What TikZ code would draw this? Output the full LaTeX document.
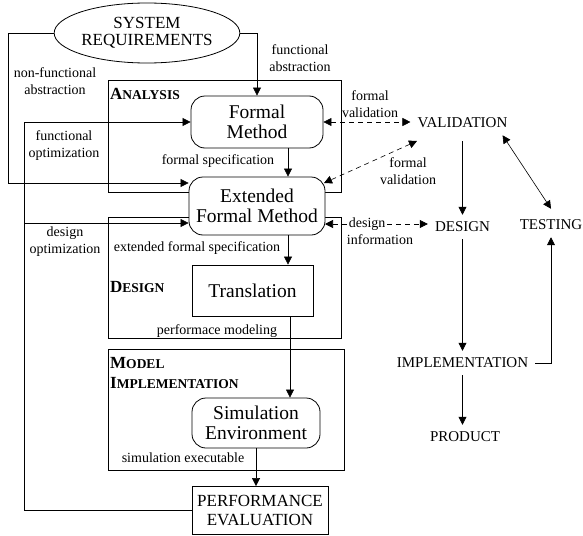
\documentclass[tikz,border=0pt]{standalone}
\usepackage{fontspec}
\setmainfont{Liberation Serif}
\usetikzlibrary{shapes.geometric,arrows.meta,calc}
\newcommand\mysmcap[1]{{\fontsize{13.5}{16}\selectfont #1}}
\begin{document}
\begin{tikzpicture}[x=1pt,y=-1pt,
  lw/.style={line width=0.6pt},
  arr/.style={lw,-{Triangle[length=8pt,width=8pt]}},
  darr/.style={lw,dash pattern=on 5pt off 4pt,{Triangle[length=8pt,width=8pt]}-{Triangle[length=8pt,width=8pt]}},
  barr/.style={lw,{Triangle[length=8pt,width=8pt]}-{Triangle[length=8pt,width=8pt]}},
  mainbox/.style={draw,line width=0.8pt,fill=white,align=center,inner sep=0pt,font=\fontsize{19.5}{20.5}\selectfont},
  rbox/.style={mainbox,rounded corners=14pt},
  grp/.style={draw,lw,inner sep=0pt},
  lbl/.style={font=\fontsize{14}{17}\selectfont,align=center,inner sep=1pt},
  phase/.style={font=\bfseries\fontsize{17}{20}\selectfont,anchor=west,inner sep=0pt,align=left},
  stage/.style={font=\fontsize{15}{17}\selectfont,inner sep=7pt},
]
\useasboundingbox (0,0) rectangle (583,535);

% group boxes
\node[grp,minimum width=233pt,minimum height=112pt] (analysis) at (224.5,136) {};
\node[grp,minimum width=233pt,minimum height=121pt] (design) at (224.5,277.5) {};
\node[grp,minimum width=236pt,minimum height=121pt] (model) at (226,409.5) {};

\node[phase] (lan) at (110,94) {A\mysmcap{NALYSIS}};
\node[phase] (lde) at (110,287) {D\mysmcap{ESIGN}};
\node[phase] (lmo) at (110,373) {M\mysmcap{ODEL}\\I\mysmcap{MPLEMENTATION}};

% main nodes
\node[draw,ellipse,line width=0.8pt,fill=white,minimum width=168pt,minimum height=60pt,inner sep=0pt,align=center,font=\fontsize{17}{17}\selectfont] (sr) at (147,33) {SYSTEM\\REQUIREMENTS};
\node[rbox,minimum width=132pt,minimum height=52pt] (fm) at (257,122) {Formal\\Method};
\node[rbox,minimum width=136pt,minimum height=58pt] (efm) at (257,206) {Extended\\Formal Method};
\node[mainbox,minimum width=121pt,minimum height=51pt] (tr) at (252.5,290.5) {Translation};
\node[rbox,minimum width=128pt,minimum height=50pt] (se) at (256,423) {Simulation\\Environment};
\node[mainbox,minimum width=136pt,minimum height=48pt,font=\fontsize{17}{19}\selectfont] (pe) at (260,510.5) {PERFORMANCE\\EVALUATION};

% right side
\node[stage] (val) at (462.5,123) {VALIDATION};
\node[stage] (des) at (462.5,227) {DESIGN};
\node[stage] (test) at (551,225) {TESTING};
\node[stage] (impl) at (462.5,363) {IMPLEMENTATION};
\node[stage] (prod) at (465,437) {PRODUCT};

% left connectors
\draw[arr] (sr.east) -| (fm.north);
\coordinate (nf) at (8,183);
\draw[arr] (sr.west) -| (nf) -- (nf -| efm.west);
\coordinate (fo) at (24,122);
\draw[arr] (pe.west) -| (fo) -- (fm.west);
\coordinate (do) at (24,223);
\draw[arr] (do) -- (do -| efm.west);

\draw[arr] ([xshift=31pt]fm.south) -- ([xshift=31pt]efm.north);
\coordinate (a1) at ([xshift=31pt]efm.south);
\draw[arr] (a1) -- (a1 |- tr.north);
\coordinate (a2) at ([xshift=37.5pt]tr.south);
\draw[arr] (a2) -- (a2 |- se.north);
\draw[arr] (se.south) -- (se.south |- pe.north);

% labels
\node[lbl] (l1) at (300,58) {functional\\abstraction};
\node[lbl] (l2) at (55,81) {non-functional\\abstraction};
\node[lbl] (l3) at (64,146) {functional\\optimization};
\node[lbl] (l4) at (65,242) {design\\optimization};
\node[lbl] (l5) at (218,161) {formal specification};
\node[lbl] (l6) at (197,248) {extended formal specification};
\node[lbl] (l7) at (217,331) {performace modeling};
\node[lbl] (l8) at (183,458) {simulation executable};
\node[lbl] (l9) at (370,104) {formal\\validation};
\node[lbl] (l10) at (408,171) {formal\\validation};

% right connectors
\draw[darr] (fm.east) -- (fm.east -| val.west);
\coordinate (v1) at (417,141);
\coordinate (e1) at (324,183);
\draw[darr] (v1) -- (e1);
\coordinate (e2) at (325,224);
\draw[darr] (e2) -- node[lbl,fill=white,pos=0.41] (dl) {design} (e2 -| des.west);
\node[lbl] (l11) at (380,240) {information};

\draw[arr,shorten <=6pt] (val.south) -- (des.north);
\draw[barr] ([xshift=-12pt]val.south east) -- ([yshift=4pt]test.north);
\draw[arr] (des.south) -- (impl.north);
\draw[arr] (impl.east) -| (test.south);
\draw[arr] (impl.south) -- (impl.south |- prod.north);
\end{tikzpicture}
\end{document}
